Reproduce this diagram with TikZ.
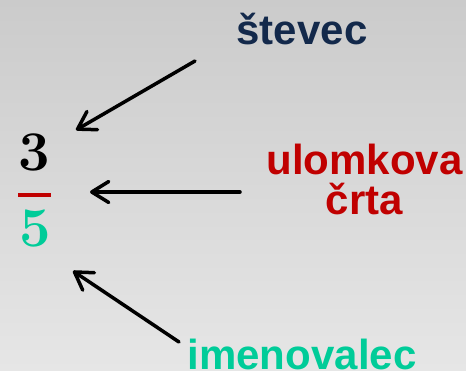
\documentclass[tikz,border=0pt]{standalone}
\usepackage{fontspec}
\usepackage[]{tikz}
\usetikzlibrary{positioning}
\usetikzlibrary{arrows.meta}
\newfontfamily\labelfont{Liberation Sans}
\definecolor{bgtop}{HTML}{CBCBCB}
\definecolor{bgbot}{HTML}{E6E6E6}
\definecolor{stevcolor}{HTML}{13294B}
\definecolor{crtacolor}{HTML}{C00000}
\definecolor{imencolor}{HTML}{00CC99}
\tikzset{
    lbl/.style={inner sep=0pt, anchor=base, font=\labelfont\bfseries\fontsize{42}{40}\selectfont},
    num/.style={inner sep=0pt, anchor=base, font=\bfseries\fontsize{56}{56}\selectfont},
    kaz/.style={line width=3.5pt, line cap=round, -{Straight Barb[length=17pt,width=21pt,round]}}
}
\begin{document}
\begin{tikzpicture}[x=1pt,y=-1pt]
            \shade[top color=bgtop,bottom color=bgbot] (0,0) rectangle (466,370); % ozadje
            \node[lbl,text=stevcolor] (stevec) at (302,44) {števec};
            \node[lbl,text=crtacolor,align=center] (crta) at (364.5,214) {ulomkova\\črta};
            \node[lbl,text=imencolor] (imen) at (302,369) {imenovalec};
            \node[num] (tri) at (34,170) {3};
            \node[num,text=imencolor] (pet) at (35,246) {5};
            \draw[crtacolor,line width=4pt] (18,195) -- (51,195); % ulomkova crta
            % puscice
            \coordinate (a1) at (195,61);  \coordinate (b1) at (76,130);
            \coordinate (a2) at (240,192); \coordinate (b2) at (90,192);
            \coordinate (a3) at (179,342); \coordinate (b3) at (73,271);
            \draw[kaz] (a1) -- (b1);
            \draw[kaz] (a2) -- (b2);
            \draw[kaz] (a3) -- (b3);
\end{tikzpicture}
\end{document}
